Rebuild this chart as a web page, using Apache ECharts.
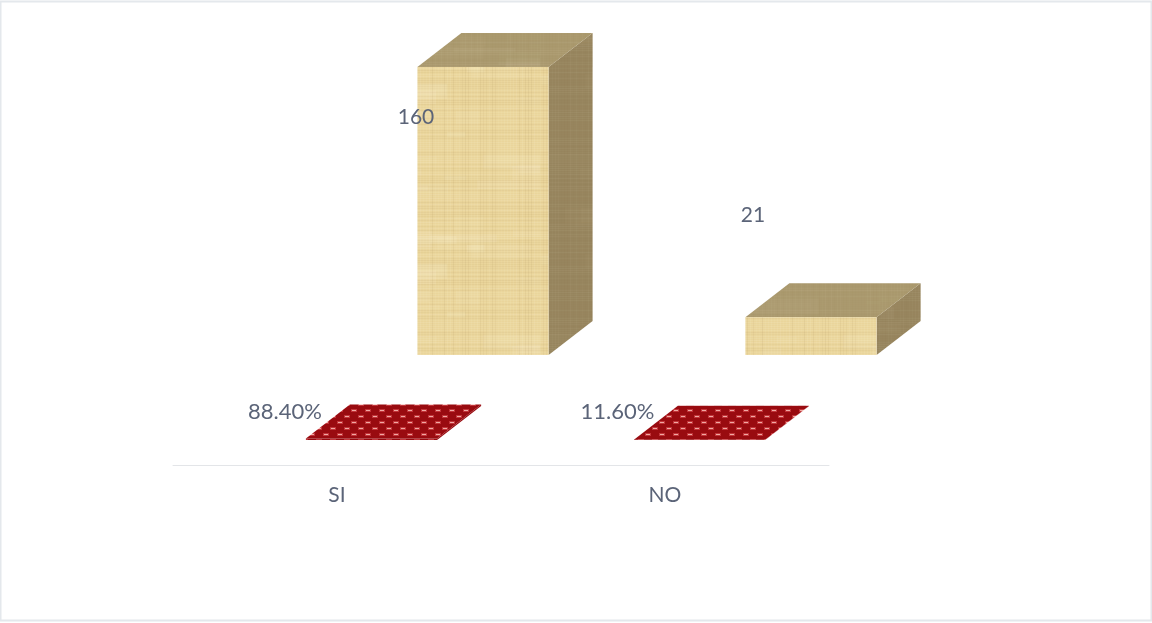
<!DOCTYPE html>
<html>
<head>
<meta charset="utf-8">
<style>html,body{margin:0;padding:0;background:#fff}#chart{width:1152px;height:623px}</style>
<script src="https://cdn.jsdelivr.net/npm/echarts@6/dist/echarts.min.js"></script>
</head>
<body>
<div id="chart"></div>
<script>
// Survey answers: respondents per answer and their share of the total.
const categories = ['SI', 'NO'];
const counts = [160, 21];
const shares = [0.884, 0.116];
const shareLabels = ['88.40%', '11.60%'];

// Small deterministic noise source for the paper tiles.
let seed = 2024;
function noise() {
  seed = (seed * 1103515245 + 12345) & 0x7fffffff;
  return seed / 0x7fffffff;
}

// Papyrus-like tile: a base tone with light mottling and faint woven fibres, softened.
function paperTile(base, spread) {
  const size = 180;
  const raw = document.createElement('canvas');
  raw.width = raw.height = size;
  const r = raw.getContext('2d');
  r.fillStyle = base;
  r.fillRect(0, 0, size, size);
  for (let k = 0; k < 30; k++) {
    const w = 14 + noise() * 60;
    const h = 3 + noise() * 14;
    r.fillStyle = 'rgba(255,248,222,' + spread * (0.12 + noise() * 0.3) + ')';
    r.fillRect(noise() * size, noise() * size, w, h);
  }
  for (let y = 0; y < size; y += 2) {
    const d = noise();
    r.fillStyle = d > 0.5 ? 'rgba(255,250,225,' + spread * d * 0.5 + ')' : 'rgba(130,100,50,' + spread * (1 - d) * 0.22 + ')';
    r.fillRect(0, y, size, 1);
  }
  for (let x = 0; x < size; x += 3) {
    const d = noise();
    r.fillStyle = d > 0.5 ? 'rgba(255,250,225,' + spread * d * 0.35 + ')' : 'rgba(130,100,50,' + spread * (1 - d) * 0.25 + ')';
    r.fillRect(x, 0, 1, size);
  }
  const c = document.createElement('canvas');
  c.width = c.height = size;
  const g = c.getContext('2d');
  g.filter = 'blur(0.7px)';
  g.drawImage(raw, 0, 0);
  g.filter = 'none';
  // Edge pixels lose coverage under the blur, so lay the tile over its base tone.
  g.globalCompositeOperation = 'destination-over';
  g.fillStyle = base;
  g.fillRect(0, 0, size, size);
  return c;
}

// Dark red cloth with staggered rows of small pale stitches.
function stitchTile() {
  const c = document.createElement('canvas');
  c.width = 14;
  c.height = 12;
  const g = c.getContext('2d');
  g.fillStyle = '#990b10';
  g.fillRect(0, 0, 14, 12);
  g.fillStyle = '#c2353a';
  g.fillRect(1, 1, 6, 3);
  g.fillRect(8, 7, 6, 3);
  g.fillStyle = '#f0aaa4';
  g.fillRect(2, 2, 4, 1);
  g.fillRect(9, 8, 4, 1);
  return c;
}

const paperFront = { image: paperTile('#ead59b', 0.3), repeat: 'repeat' };
const paperTop = { image: paperTile('#aa996e', 0.1), repeat: 'repeat' };
const paperSide = { image: paperTile('#97855e', 0.1), repeat: 'repeat' };
const cloth = { image: stitchTile(), repeat: 'repeat' };

// Pseudo-3D box: front face plus receding top and side faces.
function boxFaces(x0, x1, yTop, yBase, depthX, depthY, faces) {
  return [
    { type: 'polygon', shape: { points: [[x1, yTop], [x1 + depthX, yTop - depthY], [x1 + depthX, yBase - depthY], [x1, yBase]] }, style: { fill: faces.side } },
    { type: 'polygon', shape: { points: [[x0, yTop], [x0 + depthX, yTop - depthY], [x1 + depthX, yTop - depthY], [x1, yTop]] }, style: { fill: faces.top } },
    { type: 'rect', shape: { x: x0, y: yTop, width: x1 - x0, height: yBase - yTop }, style: { fill: faces.front } }
  ];
}

const fontFamily = 'Lato, "Open Sans", sans-serif';

// Each series sits on its own row of the chart's depth axis.
function depthSeries(name, z, values, labels, shiftX, lift, depthX, depthY, faces, fontSize, labelNudge) {
  return {
    type: 'custom',
    name: name,
    z: z,
    coordinateSystem: 'cartesian2d',
    data: values.map((v, i) => [i, v]),
    renderItem(params, api) {
      const i = api.value(0);
      const base = api.coord([i, 0]);
      const top = api.coord([i, api.value(1)]);
      const half = api.size([1, 0])[0] * 0.2;
      const cx = base[0] + shiftX;
      const yBase = base[1] - lift;
      const yTop = top[1] - lift;
      const nudge = labelNudge[i];
      return {
        type: 'group',
        children: boxFaces(cx - half, cx + half, yTop, yBase, depthX, depthY, faces).concat([{
          type: 'text',
          z2: 10,
          style: {
            text: labels[i], x: cx + nudge[0], y: yTop + nudge[1],
            fontFamily: fontFamily, fontSize: fontSize, fill: '#5b6478',
            align: 'center', verticalAlign: 'middle'
          }
        }])
      };
    }
  };
}

const chart = echarts.init(document.getElementById('chart'));
chart.setOption({
  animation: false,
  backgroundColor: '#ffffff',
  grid: { left: 173, width: 656, top: 33, height: 432 },
  xAxis: {
    type: 'category',
    data: categories,
    axisTick: { show: false },
    axisLine: { lineStyle: { color: '#e3e5e8', width: 1 } },
    axisLabel: { margin: 20, fontFamily: fontFamily, fontSize: 21, color: '#5b6478' }
  },
  yAxis: { type: 'value', min: 0, max: 240, show: false },
  graphic: [{
    type: 'rect',
    silent: true,
    shape: { x: 0.5, y: 1.5, width: 1151, height: 619 },
    style: { fill: 'none', stroke: '#e4e8ec', lineWidth: 2 }
  }],
  series: [
    depthSeries('Cantidad', 1, counts, counts.map(String), 146, 110, 44, 34,
      { front: paperFront, top: paperTop, side: paperSide }, 21,
      [[-67, 50], [-58, -101.5]]),
    depthSeries('Porcentaje', 2, shares, shareLabels, 34.5, 25, 44, 34,
      { front: cloth, top: cloth, side: cloth }, 22,
      [[-86.5, -26.5], [-82, -27.5]])
  ]
});
</script>
</body>
</html>
